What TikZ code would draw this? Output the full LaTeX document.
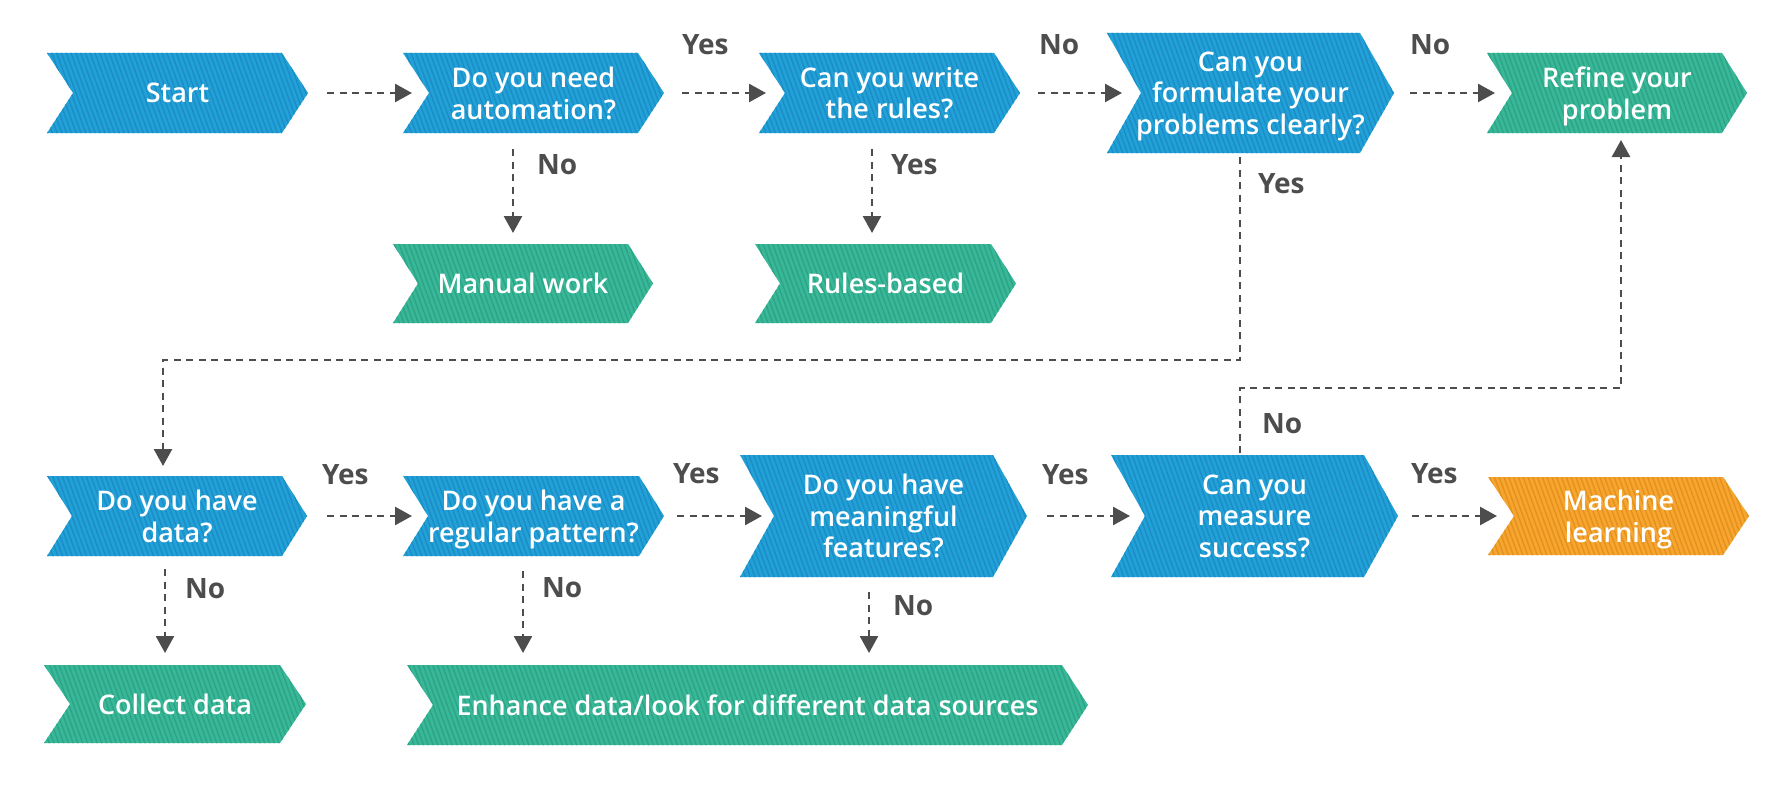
\documentclass[tikz,border=0pt]{standalone}
\usepackage{fontspec}
\setmainfont{Open Sans}
\newfontfamily\sbfont{Open Sans Semibold}
\usetikzlibrary{arrows.meta,calc,patterns.meta}
\definecolor{cblue}{HTML}{22A0D8}
\definecolor{cbluestr}{HTML}{1B8DC4}
\definecolor{cgreen}{HTML}{38B898}
\definecolor{cgreenstr}{HTML}{2DA486}
\definecolor{corange}{HTML}{F6A530}
\definecolor{corangestr}{HTML}{E4911C}
\definecolor{cgray}{HTML}{4D4D4D}
\tikzset{
  chevd/.store in=\chevd, chevd=26pt,
  chevcol/.store in=\chevcol, chevcol=cblue,
  chevstr/.store in=\chevstr, chevstr=cbluestr,
  chev/.style={rectangle, inner sep=0pt, outer sep=0pt, align=center, text=white,
    font=\sbfont\fontsize{27}{31.5}\selectfont, text depth=0pt,
    path picture={
      \fill[fill=\chevcol, postaction={pattern={Lines[angle=110,distance=4.5pt,line width=1.4pt]}, pattern color=\chevstr}]
        let \p1=(path picture bounding box.north west), \p2=(path picture bounding box.south east) in
        (\x1,\y1) -- ({\x2-\chevd},\y1) -- (\x2,{0.5*(\y1+\y2)}) -- ({\x2-\chevd},\y2) -- (\x1,\y2) -- ({\x1+\chevd},{0.5*(\y1+\y2)}) -- cycle;
    }},
  bluechev/.style={chev, chevcol=cblue, chevstr=cbluestr},
  greenchev/.style={chev, chevcol=cgreen, chevstr=cgreenstr},
  orangechev/.style={chev, chevcol=corange, chevstr=corangestr},
  arr/.style={draw=cgray, line width=2.6pt, dash pattern=on 7pt off 5.5pt,
    -{Triangle[length=17pt,width=18pt]}},
  lbl/.style={inner sep=0pt, outer sep=0pt, anchor=base west, text=cgray,
    font=\bfseries\fontsize{28}{30}\selectfont}
}
\begin{document}
\begin{tikzpicture}[x=1pt,y=-1pt]
\useasboundingbox (0,0) rectangle (1790,792);
\fill[white] (0,0) rectangle (1790,792);

% row 1
\node[bluechev, minimum width=261pt, minimum height=80pt] (start) at (177.5,93) {Start};
\node[bluechev, minimum width=261pt, minimum height=80pt] (auto) at (533.5,93) {Do you need\\automation?};
\node[bluechev, minimum width=261pt, minimum height=80pt] (write) at (889.5,93) {Can you write\\the rules?};
\node[bluechev, chevd=34pt, minimum width=287pt, minimum height=120pt] (form) at (1250.5,93) {Can you\\formulate your\\problems clearly?};
\node[greenchev, chevd=25pt, minimum width=260pt, minimum height=80pt] (refine) at (1617,93) {Refine your\\problem};
\node[greenchev, chevd=25pt, minimum width=260pt, minimum height=79pt] (manual) at (523,283.5) {Manual work};
\node[greenchev, chevd=25pt, minimum width=261pt, minimum height=79pt] (rules) at (885.5,283.5) {Rules-based};

% row 2
\node[bluechev, chevd=25pt, minimum width=260pt, minimum height=80pt] (data) at (177,516) {Do you have\\data?};
\node[bluechev, chevd=25pt, minimum width=261pt, minimum height=80pt] (pattern) at (533.5,516) {Do you have a\\regular pattern?};
\node[bluechev, chevd=34pt, minimum width=287pt, minimum height=122pt] (features) at (883.5,516) {Do you have\\meaningful\\features?};
\node[bluechev, chevd=34pt, minimum width=287pt, minimum height=122pt] (measure) at (1254.5,516) {Can you\\measure\\success?};
\node[orangechev, minimum width=261pt, minimum height=78pt] (ml) at (1618.5,516) {Machine\\learning};

% row 3
\node[greenchev, minimum width=262pt, minimum height=78pt] (collect) at (175,704) {Collect data};
\node[greenchev, minimum width=681pt, minimum height=80pt] (enhance) at (747.5,705) {Enhance data/look for different data sources};

% horizontal connectors
\draw[arr] ($(start.east)+(19,0)$) -- ($(auto.west)+(9,0)$);
\draw[arr] ($(auto.east)+(18,0)$) -- ($(write.west)+(7,0)$);
\draw[arr] ($(write.east)+(18,0)$) -- ($(form.west)+(15,0)$);
\draw[arr] ($(form.east)+(16,0)$) -- ($(refine.west)+(8,0)$);
\draw[arr] ($(data.east)+(20,0)$) -- ($(pattern.west)+(9,0)$);
\draw[arr] ($(pattern.east)+(13,0)$) -- ($(features.west)+(22,0)$);
\draw[arr] ($(features.east)+(20,0)$) -- ($(measure.west)+(19,0)$);
\draw[arr] ($(measure.east)+(14,0)$) -- ($(ml.west)+(9,0)$);

% vertical connectors
\draw[arr] ($(auto.south)+(-20.5,16)$) -- ($(auto.south |- manual.north)+(-20.5,-11)$);
\draw[arr] ($(write.south)+(-17.5,16)$) -- ($(write.south |- rules.north)+(-17.5,-11)$);
\draw[arr] ($(data.south)+(-12,13)$) -- ($(data.south |- collect.north)+(-12,-12)$);
\draw[arr] ($(pattern.south)+(-10.5,15)$) -- ($(pattern.south |- enhance.north)+(-10.5,-12)$);
\draw[arr] ($(features.south)+(-14.5,15)$) -- ($(features.south |- enhance.north)+(-14.5,-12)$);

% elbow connectors
\coordinate (lvlA) at (0,360);
\coordinate (lvlB) at (0,388);
\draw[arr] ($(form.south)+(-10.5,4)$) coordinate (fa) -- (fa |- lvlA) -| ($(data.north)+(-14,-10)$);
\draw[arr] ($(measure.north)+(-14.5,-2)$) coordinate (ma) -- (ma |- lvlB) -| ($(refine.south)+(4,7)$);

% labels
\node[lbl] (y1) at (682,55) {Yes};
\node[lbl] (n1) at (1039,55) {No};
\node[lbl] (n2) at (1410,55) {No};
\node[lbl] (n3) at (537,174) {No};
\node[lbl] (y2) at (891,174) {Yes};
\node[lbl] (y3) at (1258,193) {Yes};
\node[lbl] (y4) at (322,484) {Yes};
\node[lbl] (y5) at (673,483) {Yes};
\node[lbl] (y6) at (1042,484) {Yes};
\node[lbl] (y7) at (1411,483) {Yes};
\node[lbl] (n4) at (1262,433) {No};
\node[lbl] (n5) at (185,598) {No};
\node[lbl] (n6) at (542,597) {No};
\node[lbl] (n7) at (893,615) {No};
\end{tikzpicture}
\end{document}
